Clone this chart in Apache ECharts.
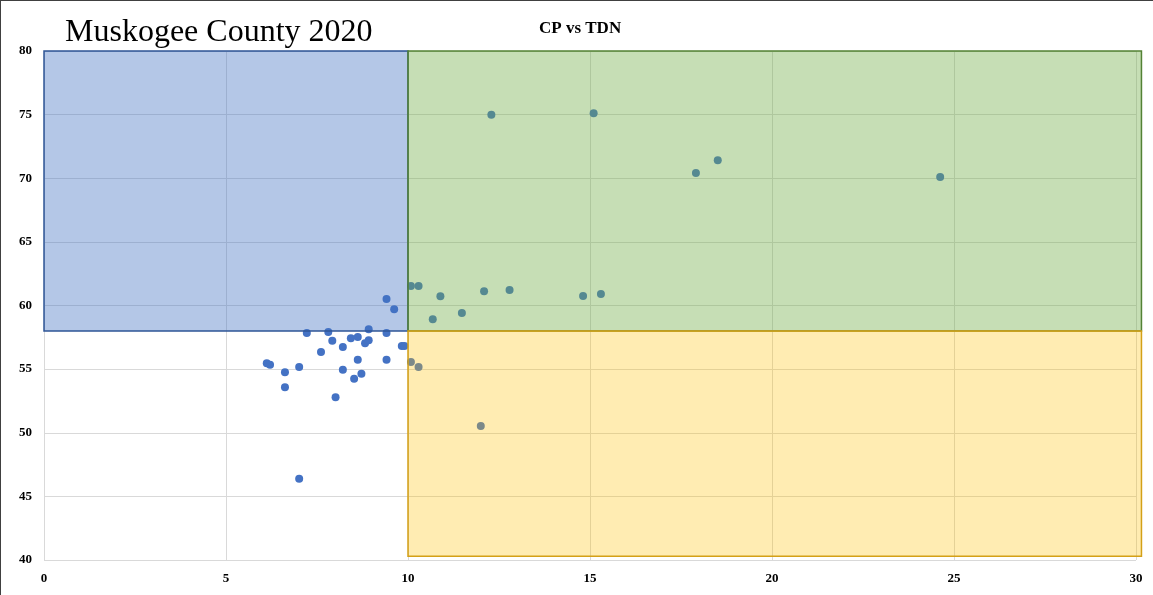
<!DOCTYPE html>
<html>
<head>
<meta charset="utf-8">
<script src="https://cdn.jsdelivr.net/npm/echarts@6/dist/echarts.min.js"></script>
<style>
  html, body { margin: 0; padding: 0; background: #fff; }
  #chart {
    width: 1153px;
    height: 595px;
    box-sizing: border-box;
    border-left: 1px solid #404040;
    border-top: 1px solid #404040;
  }
</style>
</head>
<body>
<div id="chart"></div>
<script>
// CP (x) vs TDN (y)
const cpValues = [
  6.12, 6.21, 6.62, 6.62, 7.01, 7.22, 7.61, 7.81, 7.92, 8.01,
  8.21, 8.21, 8.43, 8.52, 8.62, 8.62, 8.72, 8.82, 8.92, 8.92,
  9.41, 9.41, 9.41, 9.62, 9.83, 9.90, 7.01,
  10.08, 10.29, 10.89, 10.68, 11.48, 12.09, 12.79, 12.29, 15.10,
  14.81, 15.30, 17.91, 18.51, 24.62,
  10.08, 10.29, 12.00
];
const tdnValues = [
  55.46, 55.35, 54.75, 53.57, 55.17, 57.84, 56.35, 57.92, 57.23, 52.79,
  56.74, 54.95, 57.42, 54.25, 57.52, 55.74, 54.64, 57.03, 57.27, 58.13,
  60.51, 57.84, 55.74, 59.70, 56.82, 56.82, 46.39,
  61.53, 61.53, 60.72, 58.92, 59.41, 61.12, 61.22, 75.00, 75.10,
  60.75, 60.90, 70.41, 71.41, 70.10,
  55.56, 55.17, 50.53
];

// quadrant boxes: [xFrom, yFrom, xTo, yTo]
const cpCut = 10;
const tdnCut = 58;
const quadBoxes = [
  [0, tdnCut, cpCut, 80],
  [cpCut, tdnCut, 30.15, 80],
  [cpCut, 40.3, 30.15, tdnCut],
];
const quadFill = ["rgba(68,114,196,0.4)", "rgba(112,173,71,0.4)", "rgba(255,192,0,0.3)"];
const quadEdge = ["#2f5597", "#548235", "#d4a017"];

let points = cpValues.map((x, i) => [x, tdnValues[i]]);

let chart = echarts.init(document.getElementById("chart"));
chart.setOption({
  animation: false,
  title: [
    {
      text: "Muskogee County 2020",
      left: 59,
      top: 11,
      textStyle: {
        fontFamily: "Liberation Serif",
        fontSize: 32,
        fontWeight: "normal",
        color: "#000",
      },
    },
    {
      text: "CP vs TDN",
      left: 533,
      top: 14,
      textStyle: {
        fontFamily: "Liberation Serif",
        fontSize: 17,
        fontWeight: "bold",
        color: "#000",
      },
    },
  ],
  grid: {
    left: 43,
    right: 17,
    top: 50,
    bottom: 35,
  },
  xAxis: {
    type: "value",
    min: 0,
    max: 30,
    interval: 5,
    axisLine: { show: false },
    axisTick: { show: false },
    axisLabel: {
      fontFamily: "Liberation Serif",
      fontWeight: "bold",
      fontSize: 13,
      color: "#000",
      margin: 12,
    },
    splitLine: { lineStyle: { color: "#d9d9d9", width: 1 } },
  },
  yAxis: {
    type: "value",
    min: 40,
    max: 80,
    interval: 5,
    axisLine: { show: false },
    axisTick: { show: false },
    axisLabel: {
      fontFamily: "Liberation Serif",
      fontWeight: "bold",
      fontSize: 13,
      color: "#000",
      margin: 12,
    },
    splitLine: { lineStyle: { color: "#d9d9d9", width: 1 } },
  },
  series: [
    {
      name: "CP vs TDN",
      type: "scatter",
      z: 2,
      symbolSize: 8,
      itemStyle: { color: "#4472c4", opacity: 1 },
      data: points,
    },
    {
      // shaded quadrants laid over the points, like the Excel shapes
      type: "custom",
      z: 5,
      silent: true,
      clip: false,
      data: quadBoxes,
      encode: { x: [0, 2], y: [1, 3] },
      renderItem: function (params, api) {
        let p1 = api.coord([api.value(0), api.value(3)]);
        let p2 = api.coord([api.value(2), api.value(1)]);
        let i = params.dataIndex;
        return {
          type: "rect",
          shape: { x: p1[0], y: p1[1], width: p2[0] - p1[0], height: p2[1] - p1[1] },
          style: {
            fill: quadFill[i],
            stroke: quadEdge[i],
            lineWidth: 1.5,
          },
        };
      },
    },
  ],
});
</script>
</body>
</html>
